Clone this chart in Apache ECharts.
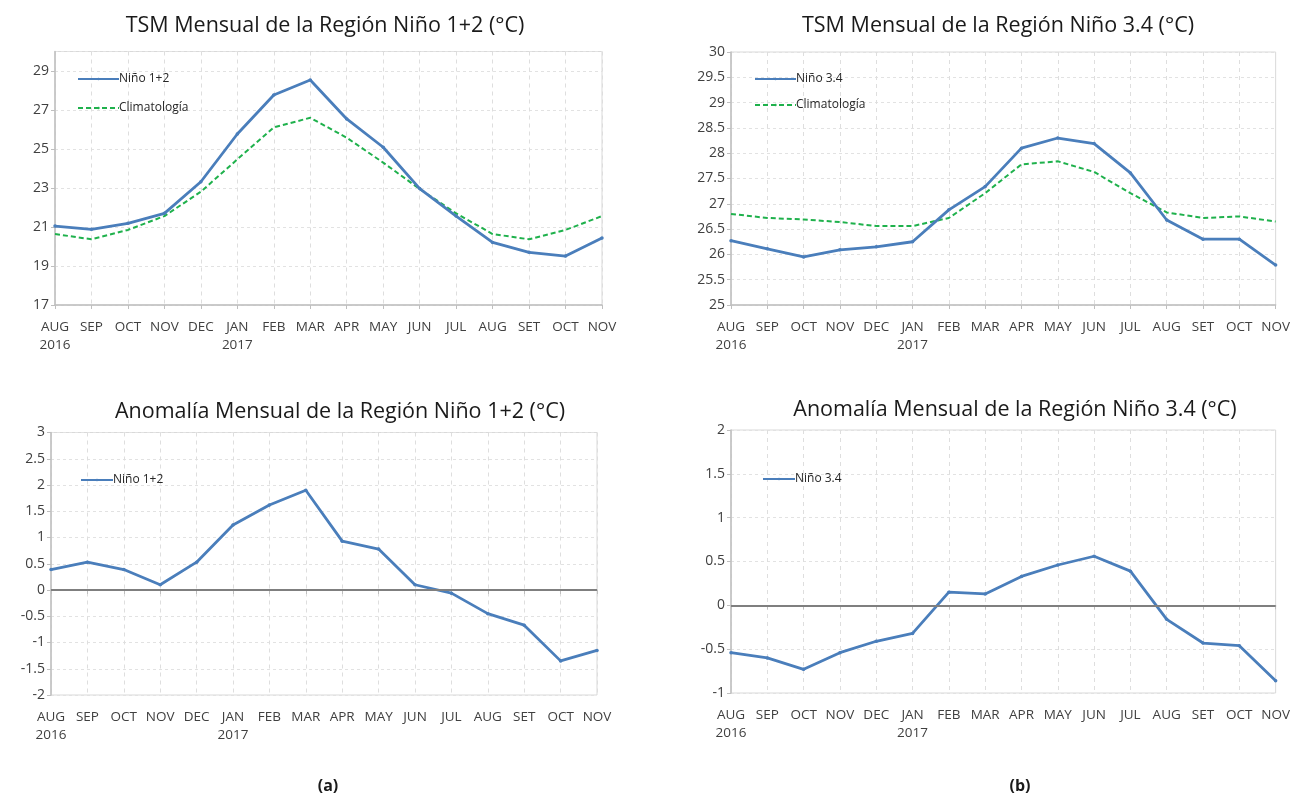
<!DOCTYPE html>
<html>
<head>
<meta charset="utf-8">
<title>TSM Niño</title>
<script src="https://cdn.jsdelivr.net/npm/echarts@6/dist/echarts.min.js"></script>
<style>
  html, body { margin: 0; padding: 0; background: #fff; }
  #main { width: 1293px; height: 795px; }
</style>
</head>
<body>
<div id="main"></div>
<script>
// meses y años del eje x
var months = ['AUG', 'SEP', 'OCT', 'NOV', 'DEC', 'JAN', 'FEB', 'MAR', 'APR', 'MAY', 'JUN', 'JUL', 'AUG', 'SET', 'OCT', 'NOV'];
var years = ['2016', '', '', '', '', '2017', '', '', '', '', '', '', '', '', '', ''];

// TSM Niño 1+2 y climatología
var tsm12 = [21.05, 20.88, 21.19, 21.7, 23.32, 25.77, 27.77, 28.54, 26.54, 25.09, 22.97, 21.56, 20.21, 19.7, 19.51, 20.44];
var clim12 = [20.64, 20.37, 20.85, 21.56, 22.81, 24.47, 26.11, 26.6, 25.58, 24.3, 22.95, 21.7, 20.64, 20.37, 20.85, 21.56];

// TSM Niño 3.4 y climatología
var tsm34 = [26.27, 26.11, 25.95, 26.09, 26.15, 26.25, 26.88, 27.34, 28.1, 28.3, 28.19, 27.61, 26.68, 26.3, 26.3, 25.79];
var clim34 = [26.8, 26.72, 26.69, 26.64, 26.56, 26.56, 26.72, 27.21, 27.78, 27.84, 27.63, 27.21, 26.83, 26.72, 26.75, 26.65];

// anomalías
var anom12 = [0.39, 0.53, 0.39, 0.1, 0.53, 1.24, 1.62, 1.9, 0.93, 0.78, 0.1, -0.06, -0.45, -0.67, -1.35, -1.15];
var anom34 = [-0.54, -0.6, -0.73, -0.54, -0.41, -0.32, 0.15, 0.13, 0.33, 0.46, 0.56, 0.39, -0.16, -0.43, -0.46, -0.86];

var FONT = '"Open Sans", "Noto Sans", sans-serif';
var BLUE = '#4a7ebb';
var GREEN = '#1fb14c';

// iconos de leyenda: línea continua y línea de trazos
var ICON_SOLID = 'path://M0,0h40v3h-40z';
var ICON_DASH = 'path://M0,0h5v2h-5z M8,0h5v2h-5z M16,0h5v2h-5z M24,0h5v2h-5z M32,0h5v2h-5z M40,0h1v2h-1z';

var chart = echarts.init(document.getElementById('main'), null, { renderer: 'canvas' });

function xAxisFor(gridIndex) {
  return {
    type: 'category',
    gridIndex: gridIndex,
    data: months,
    boundaryGap: false,
    axisLine: { lineStyle: { color: '#bfbfbf', width: 1.5 } },
    axisTick: { show: true, length: 4, lineStyle: { color: '#bfbfbf' } },
    axisLabel: {
      interval: 0,
      margin: 13,
      color: '#404040',
      fontFamily: FONT,
      fontSize: 13.5,
      lineHeight: 18,
      formatter: function (v, i) {
        return years[i] ? v + '\n' + years[i] : v
      }
    },
    splitLine: { show: true, lineStyle: { color: '#dedede', type: [4, 4] } }
  }
}

function yAxisFor(gridIndex, min, max, interval, showMax) {
  return {
    type: 'value',
    gridIndex: gridIndex,
    min: min,
    max: max,
    interval: interval,
    axisLine: { show: true, lineStyle: { color: '#bfbfbf', width: 1.5 } },
    axisTick: { show: true, length: 4, lineStyle: { color: '#bfbfbf' } },
    axisLabel: {
      color: '#404040',
      fontFamily: FONT,
      fontSize: 14,
      margin: 6,
      showMaxLabel: showMax
    },
    splitLine: { show: true, lineStyle: { color: '#e2e2e2', type: [3, 3] } }
  }
}

function lineSeries(name, data, gridIndex, dashed) {
  return {
    name: name,
    type: 'line',
    xAxisIndex: gridIndex,
    yAxisIndex: gridIndex,
    data: data,
    symbol: dashed ? 'none' : 'circle',
    symbolSize: 3.5,
    showSymbol: !dashed,
    legendIcon: dashed ? ICON_DASH : ICON_SOLID,
    color: dashed ? GREEN : BLUE,
    lineStyle: {
      color: dashed ? GREEN : BLUE,
      width: dashed ? 2 : 2.8,
      type: dashed ? [5, 3] : 'solid'
    },
    itemStyle: { color: dashed ? GREEN : BLUE },
    z: dashed ? 2 : 3
  }
}

function zeroLine() {
  return {
    silent: true,
    symbol: 'none',
    label: { show: false },
    lineStyle: { color: '#7f7f7f', width: 2, type: 'solid' },
    data: [{ yAxis: 0 }]
  }
}

function titleAt(text, x, y, size, bold) {
  return {
    text: text,
    left: x,
    top: y,
    textAlign: 'center',
    textStyle: {
      fontFamily: FONT,
      fontSize: size,
      fontWeight: bold ? 'bold' : 'normal',
      color: '#1a1a1a'
    }
  }
}

function legendAt(names, x, y, w, gap) {
  return {
    orient: 'vertical',
    left: x,
    top: y,
    itemWidth: w,
    itemHeight: 3,
    itemGap: gap,
    symbolKeepAspect: false,
    data: names,
    textStyle: { fontFamily: FONT, fontSize: 12, color: '#262626', padding: [0, 0, 0, -5] }
  }
}

var s1 = lineSeries('Niño 1+2', tsm12, 0, false)
var s2 = lineSeries('Climatología', clim12, 0, true)
var s3 = lineSeries('Niño 3.4', tsm34, 1, false)
var s4 = lineSeries('Climatología', clim34, 1, true)
var s5 = lineSeries('Niño 1+2', anom12, 2, false)
s5.markLine = zeroLine()
var s6 = lineSeries('Niño 3.4', anom34, 3, false)
s6.markLine = zeroLine()

var option = {
  backgroundColor: '#ffffff',
  animation: false,
  title: [
    titleAt('TSM Mensual de la Región Niño 1+2 (°C)', 320, 10, 21.5),
    titleAt('TSM Mensual de la Región Niño 3.4 (°C)', 993, 10, 21.5),
    titleAt('Anomalía Mensual de la Región Niño 1+2 (°C)', 335, 396, 21.5),
    titleAt('Anomalía Mensual de la Región Niño 3.4 (°C)', 1010, 394, 21.5),
    titleAt('(a)', 323, 773, 16, true),
    titleAt('(b)', 1015, 773, 16, true)
  ],
  legend: [
    legendAt(['Niño 1+2', 'Climatología'], 72, 68, 41, 17),
    legendAt(['Niño 3.4', 'Climatología'], 749, 68, 41, 14),
    legendAt(['Niño 1+2'], 75, 469, 32, 10),
    legendAt(['Niño 3.4'], 757, 468, 32, 10)
  ],
  grid: [
    { left: 55, top: 51.5, width: 547, height: 253.5, show: true, borderColor: '#d9d9d9', borderWidth: 1 },
    { left: 731, top: 52, width: 548, height: 253, show: true, borderColor: '#d9d9d9', borderWidth: 1 },
    { left: 51, top: 432.5, width: 546, height: 262.5, show: true, borderColor: '#d9d9d9', borderWidth: 1 },
    { left: 731, top: 430, width: 548, height: 263, show: true, borderColor: '#d9d9d9', borderWidth: 1 }
  ],
  xAxis: [xAxisFor(0), xAxisFor(1), xAxisFor(2), xAxisFor(3)],
  yAxis: [
    yAxisFor(0, 17, 30, 2, false),
    yAxisFor(1, 25, 30, 0.5, true),
    yAxisFor(2, -2, 3, 0.5, true),
    yAxisFor(3, -1, 2, 0.5, true)
  ],
  series: [s1, s2, s3, s4, s5, s6]
}

chart.setOption(option)
</script>
</body>
</html>
